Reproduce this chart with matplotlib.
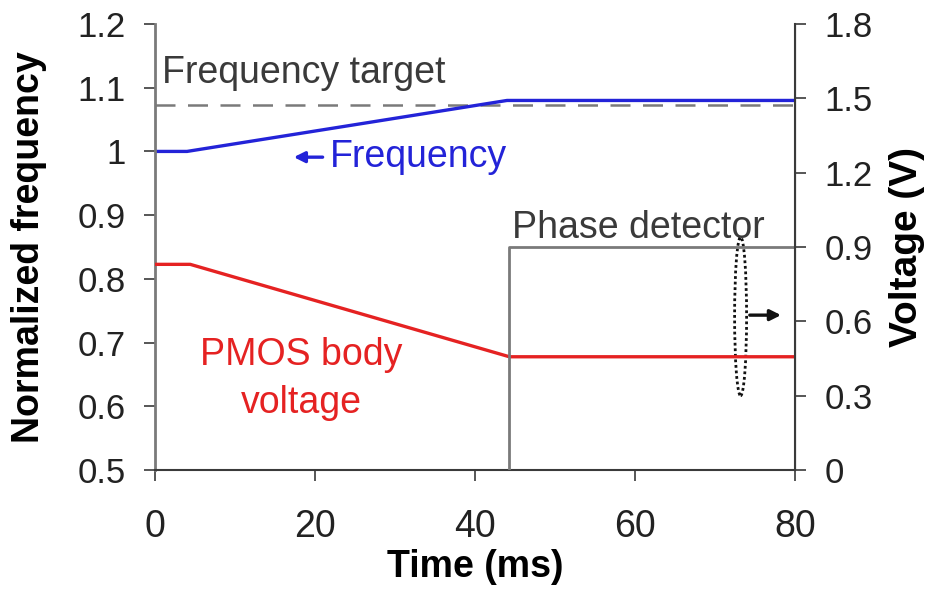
import matplotlib
matplotlib.use("Agg")
import matplotlib.pyplot as plt
from matplotlib.patches import Ellipse

plt.rcParams['font.family'] = ['Liberation Sans', 'DejaVu Sans']

# Data
freq_t = [0, 4, 44, 80]
freq_v = [1.0, 1.0, 1.08, 1.08]
target_t = [0, 80]
target_v = [1.073, 1.073]
body_t = [0, 4.4, 44.3, 80]
body_v = [0.83, 0.83, 0.457, 0.457]       # volts (right axis)
pd_t = [44.3, 44.3, 80]
pd_v = [0.0, 0.9, 0.9]                    # volts (right axis)
x_ticks = [0, 20, 40, 60, 80]
left_ticks = [0.5, 0.6, 0.7, 0.8, 0.9, 1.0, 1.1, 1.2]
left_labels = ['0.5', '0.6', '0.7', '0.8', '0.9', '1', '1.1', '1.2']
right_ticks = [0, 0.3, 0.6, 0.9, 1.2, 1.5, 1.8]
right_labels = ['0', '0.3', '0.6', '0.9', '1.2', '1.5', '1.8']

blue = '#2323d8'
red = '#e52222'
gray = '#7a7a7a'
dark = '#3a3a3a'

fig = plt.figure(figsize=(9.31, 5.89), dpi=100)
ax = fig.add_axes([155/931, (589-470)/589, (795-155)/931, (470-24)/589])
ax2 = ax.twinx()

ax.set_xlim(0, 80)
ax.set_ylim(0.5, 1.2)
ax2.set_ylim(0, 1.8)

ax.plot(target_t, target_v, color=gray, lw=1.8, dashes=(8, 5))
ax.plot(freq_t, freq_v, color=blue, lw=2.4)
ax2.plot(body_t, body_v, color=red, lw=2.4)
ax2.plot(pd_t, pd_v, color=gray, lw=2.0)

ax.set_xticks(x_ticks)
ax.set_yticks(left_ticks)
ax.set_yticklabels(left_labels)
ax2.set_yticks(right_ticks)
ax2.set_yticklabels(right_labels)

fs = 27
tfs = 25
ax.tick_params(axis='x', labelsize=fs, direction='out', length=8, width=1.2,
               colors=dark, labelcolor='#222222', pad=20)
ax.tick_params(axis='y', labelsize=tfs, direction='out', length=8, width=1.2,
               colors=dark, labelcolor='#222222', pad=13)
ax2.tick_params(axis='y', labelsize=tfs, direction='out', length=8, width=1.2,
                colors=dark, labelcolor='#222222', pad=13)

for a in (ax, ax2):
    a.spines['top'].set_visible(False)
ax.spines['left'].set_color(gray)
ax.spines['left'].set_linewidth(2.0)
ax.spines['bottom'].set_color(dark)
ax.spines['bottom'].set_linewidth(1.5)
ax2.spines['right'].set_color(dark)
ax2.spines['right'].set_linewidth(1.5)
ax2.spines['left'].set_visible(False)
ax2.spines['bottom'].set_visible(False)

ax.set_xlabel('Time (ms)', fontsize=fs, fontweight='bold', labelpad=3)
ax.set_ylabel('Normalized frequency', fontsize=fs, fontweight='bold')
ax.yaxis.set_label_coords(-0.168, 0.5)
ax2.set_ylabel('Voltage (V)', fontsize=28, fontweight='bold')
ax2.yaxis.set_label_coords(1.147, 0.5)

ax.text(0.9, 1.123, 'Frequency target', fontsize=fs, color=dark, va='center', ha='left')
ax.text(21.8, 0.991, 'Frequency', fontsize=fs, color=blue, va='center', ha='left')
ax.annotate('', xy=(17.0, 0.991), xytext=(21.3, 0.991),
            arrowprops=dict(arrowstyle='-|>', color=blue, lw=2.4, mutation_scale=16))
ax.text(44.6, 0.88, 'Phase detector', fontsize=fs, color=dark, va='center', ha='left')
ax.text(18.3, 0.68, 'PMOS body', fontsize=fs, color=red, va='center', ha='center')
ax.text(18.3, 0.605, 'voltage', fontsize=fs, color=red, va='center', ha='center')

ax2.add_patch(Ellipse((73.2, 0.62), 1.5, 0.64, fill=False, ls=(0, (1, 1)),
                      lw=2.0, color='#111111'))
ax2.annotate('', xy=(78.6, 0.625), xytext=(74.0, 0.625),
             arrowprops=dict(arrowstyle='-|>', color='#111111', lw=2.4, mutation_scale=16))

fig.savefig('out.png', dpi=100)
